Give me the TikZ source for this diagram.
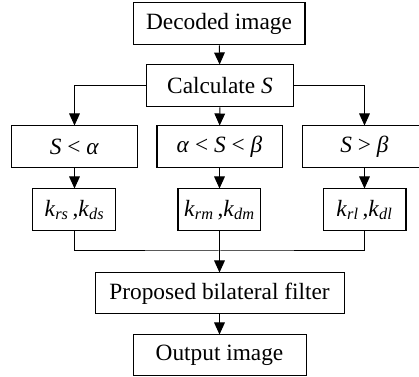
\documentclass[tikz,border=0pt]{standalone}
\usepackage{fontspec}
\setmainfont{Liberation Serif}
\usetikzlibrary{arrows.meta}

\tikzset{
  blk/.style={draw, line width=0.75pt, inner sep=0pt, align=center,
    font=\fontsize{17.5}{20}\selectfont},
  widebox/.style={minimum width=172*0.75pt, minimum height=42*0.75pt},
  rangebox/.style={minimum width=125*0.75pt, minimum height=42*0.75pt},
  parambox/.style={minimum width=83*0.75pt, minimum height=42*0.75pt},
  flow/.style={line width=0.75pt, -{Triangle[length=9pt,width=8pt]}},
  wire/.style={line width=0.75pt}
}
\newcommand{\vr}[1]{\textit{#1}}
\newcommand{\kk}[1]{\textit{k}\textsubscript{\textit{#1}}}

\begin{document}
\begin{tikzpicture}[x=0.75pt,y=0.75pt,yscale=-1]
\useasboundingbox (0,0) rectangle (419,377);

% Top boxes
\node [blk, widebox] (decoded) at (219,24) {Decoded image};
\node [blk, widebox, minimum width=146*0.75pt] (calc) at (220,86) {Calculate \vr{S}};

% Three ranges of S
\node [blk, rangebox] (low) at (74.5,147) {\vr{S} {<} \vr{α}};
\node [blk, rangebox] (mid) at (219.5,147) {\vr{α} {<} \vr{S} {<} \vr{β}};
\node [blk, rangebox] (high) at (364.5,147) {\vr{S} {>} \vr{β}};

% Parameter boxes
\node [blk, parambox] (klow) at (74.5,210) {\kk{rs}\,,\kk{ds}};
\node [blk, parambox] (kmid) at (219.5,210) {\kk{rm}\,,\kk{dm}};
\node [blk, parambox] (khigh) at (364.5,210) {\kk{rl}\,,\kk{dl}};

% Bottom boxes
\node [blk, minimum width=249*0.75pt, minimum height=41*0.75pt] (filter) at (219.5,293.5) {Proposed bilateral filter};
\node [blk, minimum width=173*0.75pt, minimum height=41*0.75pt] (out) at (219.5,355.5) {Output image};

\coordinate (join) at (219.5,251);

% Connectors
\draw [flow] (decoded) -- (calc);
\draw [flow] (calc.west) -| (low.north);
\draw [flow] (calc) -- (mid);
\draw [flow] (calc.east) -| (high.north);
\draw [flow] (low) -- (klow);
\draw [flow] (mid) -- (kmid);
\draw [flow] (high) -- (khigh);
\draw [wire] (klow.south) |- (join) -| (khigh.south);
\draw [wire] (kmid.south) -- (join);
\draw [flow] (join) -- (filter);
\draw [flow] (filter) -- (out);

\end{tikzpicture}
\end{document}
